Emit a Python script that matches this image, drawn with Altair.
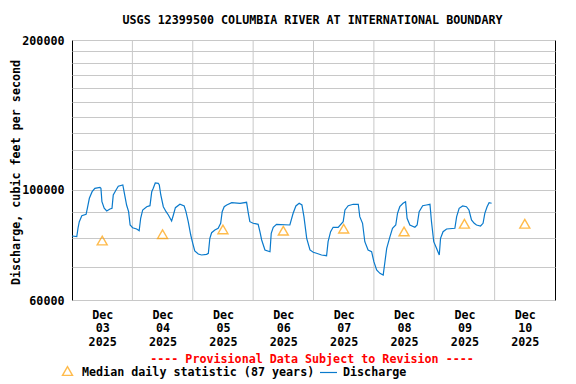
import altair as alt
import pandas as pd

# ---- data ----
hours = [0, 1.9, 2.4, 2.9, 3.9, 5.6, 6.1, 6.9, 8.0, 9.1, 11.1, 11.5, 11.9, 12.8, 13.8, 15.1,
         15.9, 16.4, 17.5, 18.4, 20.2, 20.7, 21.7, 22.5, 23.1, 24.1, 25.7, 26.7, 27.3, 28.1,
         29.7, 31.0, 31.7, 32.3, 33.1, 34.3, 34.7, 35.3, 36.3, 37.4, 38.3, 39.6, 40.3, 41.1,
         42.9, 44.6, 45.3, 46.2, 47.2, 48.0, 48.8, 50.2, 51.5, 53.5, 54.2, 54.8, 55.5, 56.8,
         58.1, 59.1, 59.7, 60.5, 61.5, 63.5, 66.8, 69.4, 70.1, 70.7, 72.0, 74.0, 74.7, 75.4,
         76.7, 78.7, 79.2, 80.0, 81.3, 86.6, 87.9, 89.0, 90.3, 91.4, 92.2, 93.3, 94.6, 95.9,
         97.2, 99.2, 101.2, 101.8, 102.8, 103.8, 105.8, 107.8, 108.5, 109.8, 111.8, 113.8,
         114.4, 115.5, 116.4, 117.7, 119.1, 120.0, 121.1, 122.4, 123.7, 124.4, 125.1, 126.4,
         127.4, 128.7, 129.4, 130.3, 131.6, 132.6, 133.2, 134.3, 136.3, 137.2, 138.0, 139.4,
         140.9, 142.3, 142.9, 143.8, 144.9, 146.0, 146.5, 147.5, 148.9, 152.2, 152.9, 153.9,
         155.3, 156.8, 157.8, 158.8, 159.9, 160.8, 162.4, 163.4, 164.1, 165.0, 165.8, 166.8]

discharge = [80700, 80440, 83750, 86230, 88660, 89230, 91750, 96100, 99080, 100650, 101100, 100650,
             94590, 91750, 90610, 91450, 91750, 97580, 99860, 101600, 102200, 99080, 93160, 90310,
             84920, 83860, 83360, 82700, 87600, 91030, 92430, 92860, 99080, 100650, 103150, 103000,
             102200, 97580, 92430, 90310, 88940, 86500, 88940, 92000, 93460, 92730, 90310, 86230,
             81070, 78010, 75280, 74250, 73900, 74140, 74490, 79840, 81940, 82970, 83630, 85590,
             90310, 92430, 93160, 94160, 93900, 94330, 89650, 86230, 85590, 85190, 82320, 79220,
             75630, 75030, 81710, 84020, 85190, 84920, 89650, 92730, 93900, 93160, 88250, 79840,
             75630, 74830, 74490, 73900, 73660, 78590, 82320, 84020, 84020, 86230, 91030, 92860,
             93460, 93460, 88250, 85590, 78590, 75630, 75030, 71640, 68940, 67890, 67360, 71640,
             76220, 80440, 83630, 84920, 89650, 92430, 93900, 94590, 87600, 84920, 84020, 84920,
             90310, 92860, 93160, 93460, 86230, 78590, 76220, 73900, 79840, 82320, 83360, 83630,
             88250, 91750, 92730, 92430, 91030, 86910, 85590, 84920, 84530, 85590, 89650, 92430,
             94160, 93900]

median_days = [3, 4, 5, 6, 7, 8, 9, 10]
median_values = [79000, 81400, 83200, 82700, 83500, 82400, 85400, 85400]

grid_days = [4, 5, 6, 7, 8, 9, 10]
y_ticks = list(range(60000, 200001, 10000))

TITLE = "USGS 12399500 COLUMBIA RIVER AT INTERNATIONAL BOUNDARY"
NOTICE = "---- Provisional Data Subject to Revision ----"
LEG_MEDIAN = "Median daily statistic (87 years)"
LEG_Q = "Discharge"

BLUE = "#0a7acc"
ORANGE = "#ff9f00"
FONT = "DejaVu Sans Mono"
FS = 11.7

# ---- tables ----
t0 = pd.Timestamp("2025-12-03T00:00:00")
fmt = "%Y-%m-%dT%H:%M:%SZ"
df_line = pd.DataFrame({
    "t": [(t0 + pd.Timedelta(hours=h)).strftime(fmt) for h in hours],
    "q": discharge,
})
df_med = pd.DataFrame({
    "t": [pd.Timestamp(2025, 12, d, 12).strftime(fmt) for d in median_days],
    "q": median_values,
})
df_grid = pd.DataFrame({"t": [pd.Timestamp(2025, 12, d).strftime(fmt) for d in grid_days]})

xscale = alt.Scale(type="utc", domain=[alt.DateTime(year=2025, month=12, date=3, utc=True),
                                       alt.DateTime(year=2025, month=12, date=11, utc=True)])
yscale = alt.Scale(type="log", domain=[60000, 200000], nice=False)

xaxis = alt.Axis(
    values=[alt.DateTime(year=2025, month=12, date=d, hours=12, utc=True) for d in median_days],
    labelExpr="[utcFormat(datum.value, '%b'), utcFormat(datum.value, '%d'), utcFormat(datum.value, '%Y')]",
    ticks=False, domain=False, grid=False, labelPadding=9, labelLineHeight=13.5,
    labelFlush=False, labelOverlap=False, title=None,
)
yaxis = alt.Axis(
    values=y_ticks, format="d",
    labelExpr="(datum.value == 60000 || datum.value == 100000 || datum.value == 200000) ? datum.label : ''",
    ticks=False, domain=False, labelPadding=8, labelOverlap=False, labelFlush=False,
    grid=True, gridColor="#c8c8c8", gridWidth=1,
    title="Discharge, cubic feet per second", titleX=-57, titleY=132, titleAngle=270,
    titleAlign="center", titleBaseline="middle",
)

rules = alt.Chart(df_grid).mark_rule(color="#c8c8c8", strokeWidth=1).encode(
    x=alt.X("t:T", scale=xscale, axis=xaxis)
)
line = alt.Chart(df_line).mark_line(color=BLUE, strokeWidth=1.2, clip=True).encode(
    x=alt.X("t:T", scale=xscale, axis=xaxis),
    y=alt.Y("q:Q", scale=yscale, axis=yaxis),
)
med = alt.Chart(df_med).mark_point(shape="triangle-up", filled=False, color=ORANGE,
                                   size=100, strokeWidth=1.4).encode(
    x=alt.X("t:T", scale=xscale, axis=xaxis),
    y=alt.Y("q:Q", scale=yscale, axis=yaxis),
)

def label(text, x, y, color="black", align="center"):
    return alt.Chart(pd.DataFrame({"s": [text]})).mark_text(
        font=FONT, fontSize=FS, fontWeight="bold", color=color, align=align, baseline="middle"
    ).encode(x=alt.value(x), y=alt.value(y), text="s:N")

title = label(TITLE, 240.5, -20)
notice = label(NOTICE, 240, 318.5, color="#ff0000")
leg_txt1 = label(LEG_MEDIAN, 10, 332, align="left")
leg_txt2 = label(LEG_Q, 271, 332, align="left")
leg_tri = alt.Chart(pd.DataFrame({"s": [LEG_MEDIAN]})).mark_point(
    shape="triangle-up", filled=False, color=ORANGE, size=100, strokeWidth=1.4
).encode(x=alt.value(-4.5), y=alt.value(331))
leg_line = alt.Chart(pd.DataFrame({"s": [LEG_Q]})).mark_rule(color=BLUE, strokeWidth=1.2).encode(
    x=alt.value(248), x2=alt.value(265), y=alt.value(332.5)
)

chart = alt.layer(rules, line, med, title, notice, leg_tri, leg_txt1, leg_line, leg_txt2).properties(
    width=483, height=260,
    autosize=alt.AutoSizeParams(type="none"),
    padding={"left": 64, "top": 32, "right": 13, "bottom": 82},
).configure_view(
    stroke="black", strokeWidth=1
).configure_axis(
    labelFont=FONT, labelFontSize=FS, labelFontWeight="bold", labelColor="black",
    titleFont=FONT, titleFontSize=FS, titleFontWeight="bold", titleColor="black",
)

chart.save("out.html", embed_options={"renderer": "svg", "actions": False})
